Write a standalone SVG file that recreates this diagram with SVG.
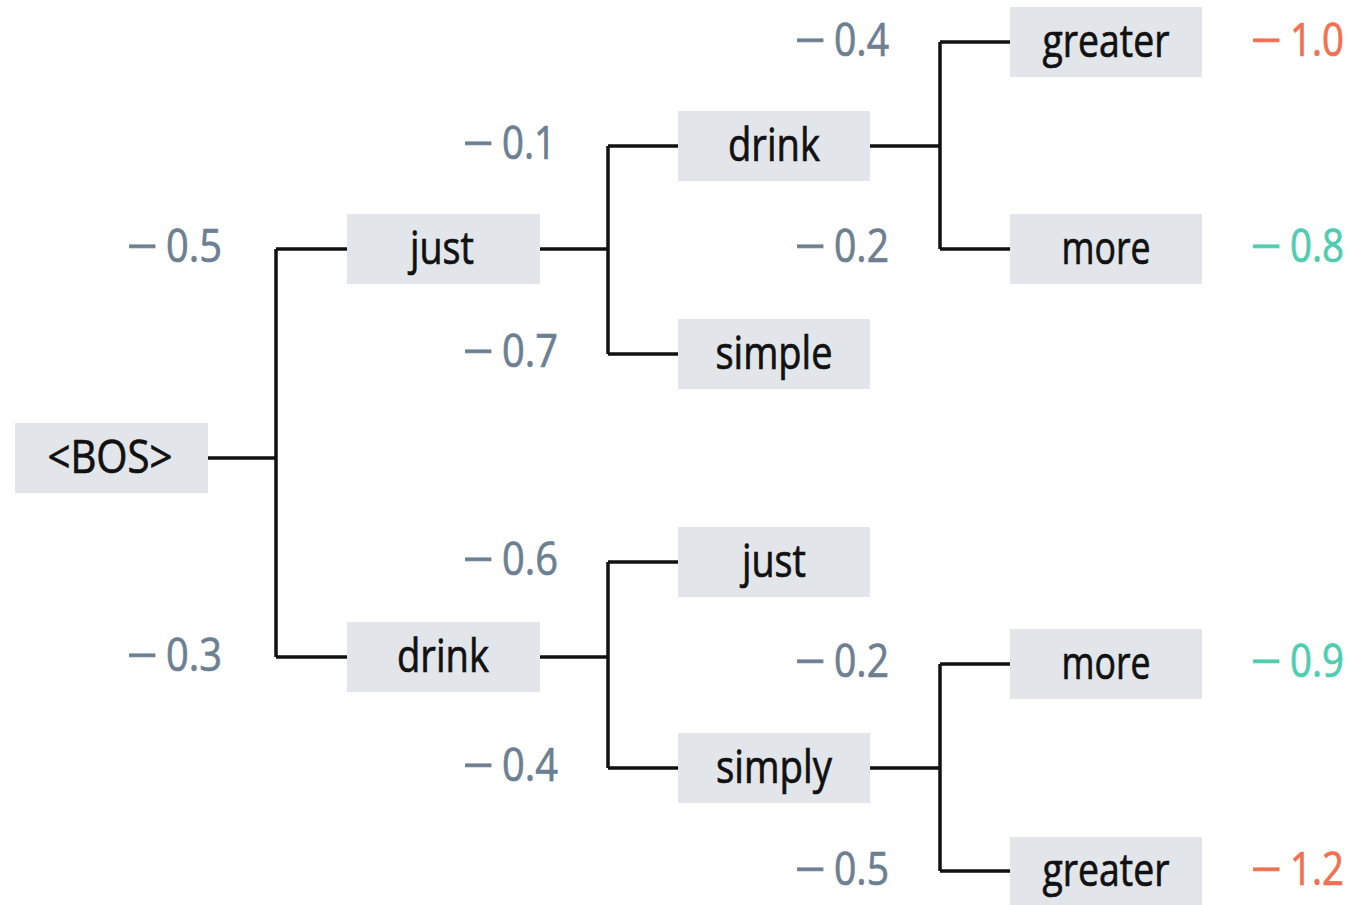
<svg xmlns="http://www.w3.org/2000/svg" width="1352" height="905" viewBox="0 0 1352 905">
<style>
.box{fill:#e2e5ea}
.t{font-family:"Open Sans","Liberation Sans",sans-serif;font-size:45px;text-anchor:middle;fill:#111;stroke:#111;stroke-width:0.7}
.s{font-family:"Open Sans","Liberation Sans",sans-serif;font-size:45px;fill:#6d7f92;stroke:#6d7f92;stroke-width:0.7}
.o{fill:#f07050;stroke:#f07050}
.g{fill:#4ecdb0;stroke:#4ecdb0}
.c{fill:none;stroke:#111;stroke-width:3.5}
</style>
<rect width="1352" height="905" fill="#fff"/>
<g id="connectors">
<path class="c" d="M207 458H276M276 249V657M276 249H347M276 657H347"/>
<path class="c" d="M540 249H608M608 146V354M608 146H678M608 354H678"/>
<path class="c" d="M870 146H940M940 42V249M940 42H1010M940 249H1010"/>
<path class="c" d="M540 657H608M608 562V768M608 562H678M608 768H678"/>
<path class="c" d="M870 768H940M940 664V871M940 664H1010M940 871H1010"/>
</g>
<g id="n-bos"><rect class="box" x="15" y="423" width="193" height="70"/><text class="t" x="110" y="473" textLength="125" lengthAdjust="spacingAndGlyphs">&lt;BOS&gt;</text></g>
<g id="n-just1"><rect class="box" x="347" y="214" width="193" height="70"/><text class="t" x="442" y="264" textLength="64" lengthAdjust="spacingAndGlyphs">just</text><text class="s" y="262"><tspan x="127" textLength="31" lengthAdjust="spacingAndGlyphs">−</tspan><tspan x="166" textLength="56" lengthAdjust="spacingAndGlyphs">0.5</tspan></text></g>
<g id="n-drink1"><rect class="box" x="347" y="622" width="193" height="70"/><text class="t" x="443" y="672" textLength="92" lengthAdjust="spacingAndGlyphs">drink</text><text class="s" y="671"><tspan x="127" textLength="31" lengthAdjust="spacingAndGlyphs">−</tspan><tspan x="166" textLength="56" lengthAdjust="spacingAndGlyphs">0.3</tspan></text></g>
<g id="n-drink2"><rect class="box" x="678" y="111" width="192" height="70"/><text class="t" x="774" y="161" textLength="92" lengthAdjust="spacingAndGlyphs">drink</text><text class="s" y="159"><tspan x="463" textLength="31" lengthAdjust="spacingAndGlyphs">−</tspan><tspan x="502" textLength="54" lengthAdjust="spacingAndGlyphs">0.1</tspan></text></g>
<g id="n-simple"><rect class="box" x="678" y="319" width="192" height="70"/><text class="t" x="774" y="369" textLength="117" lengthAdjust="spacingAndGlyphs">simple</text><text class="s" y="367"><tspan x="463" textLength="31" lengthAdjust="spacingAndGlyphs">−</tspan><tspan x="502" textLength="56" lengthAdjust="spacingAndGlyphs">0.7</tspan></text></g>
<g id="n-just2"><rect class="box" x="678" y="527" width="192" height="70"/><text class="t" x="774" y="577" textLength="64" lengthAdjust="spacingAndGlyphs">just</text><text class="s" y="575"><tspan x="463" textLength="31" lengthAdjust="spacingAndGlyphs">−</tspan><tspan x="502" textLength="56" lengthAdjust="spacingAndGlyphs">0.6</tspan></text></g>
<g id="n-simply"><rect class="box" x="678" y="733" width="192" height="70"/><text class="t" x="774" y="783" textLength="116" lengthAdjust="spacingAndGlyphs">simply</text><text class="s" y="781"><tspan x="463" textLength="31" lengthAdjust="spacingAndGlyphs">−</tspan><tspan x="502" textLength="56" lengthAdjust="spacingAndGlyphs">0.4</tspan></text></g>
<g id="n-greater1"><rect class="box" x="1010" y="7" width="192" height="70"/><text class="t" x="1106" y="57" textLength="127" lengthAdjust="spacingAndGlyphs">greater</text><text class="s" y="56"><tspan x="795" textLength="31" lengthAdjust="spacingAndGlyphs">−</tspan><tspan x="834" textLength="55" lengthAdjust="spacingAndGlyphs">0.4</tspan></text><text class="s o" y="56"><tspan x="1251" textLength="31" lengthAdjust="spacingAndGlyphs">−</tspan><tspan x="1290" textLength="54" lengthAdjust="spacingAndGlyphs">1.0</tspan></text></g>
<g id="n-more1"><rect class="box" x="1010" y="214" width="192" height="70"/><text class="t" x="1106" y="264" textLength="89" lengthAdjust="spacingAndGlyphs">more</text><text class="s" y="262"><tspan x="795" textLength="31" lengthAdjust="spacingAndGlyphs">−</tspan><tspan x="834" textLength="55" lengthAdjust="spacingAndGlyphs">0.2</tspan></text><text class="s g" y="262"><tspan x="1251" textLength="31" lengthAdjust="spacingAndGlyphs">−</tspan><tspan x="1290" textLength="54" lengthAdjust="spacingAndGlyphs">0.8</tspan></text></g>
<g id="n-more2"><rect class="box" x="1010" y="629" width="192" height="70"/><text class="t" x="1106" y="679" textLength="89" lengthAdjust="spacingAndGlyphs">more</text><text class="s" y="677"><tspan x="795" textLength="31" lengthAdjust="spacingAndGlyphs">−</tspan><tspan x="834" textLength="55" lengthAdjust="spacingAndGlyphs">0.2</tspan></text><text class="s g" y="677"><tspan x="1251" textLength="31" lengthAdjust="spacingAndGlyphs">−</tspan><tspan x="1290" textLength="54" lengthAdjust="spacingAndGlyphs">0.9</tspan></text></g>
<g id="n-greater2"><rect class="box" x="1010" y="837" width="192" height="70"/><text class="t" x="1106" y="886" textLength="127" lengthAdjust="spacingAndGlyphs">greater</text><text class="s" y="885"><tspan x="795" textLength="31" lengthAdjust="spacingAndGlyphs">−</tspan><tspan x="834" textLength="55" lengthAdjust="spacingAndGlyphs">0.5</tspan></text><text class="s o" y="885"><tspan x="1251" textLength="31" lengthAdjust="spacingAndGlyphs">−</tspan><tspan x="1290" textLength="54" lengthAdjust="spacingAndGlyphs">1.2</tspan></text></g>
</svg>
